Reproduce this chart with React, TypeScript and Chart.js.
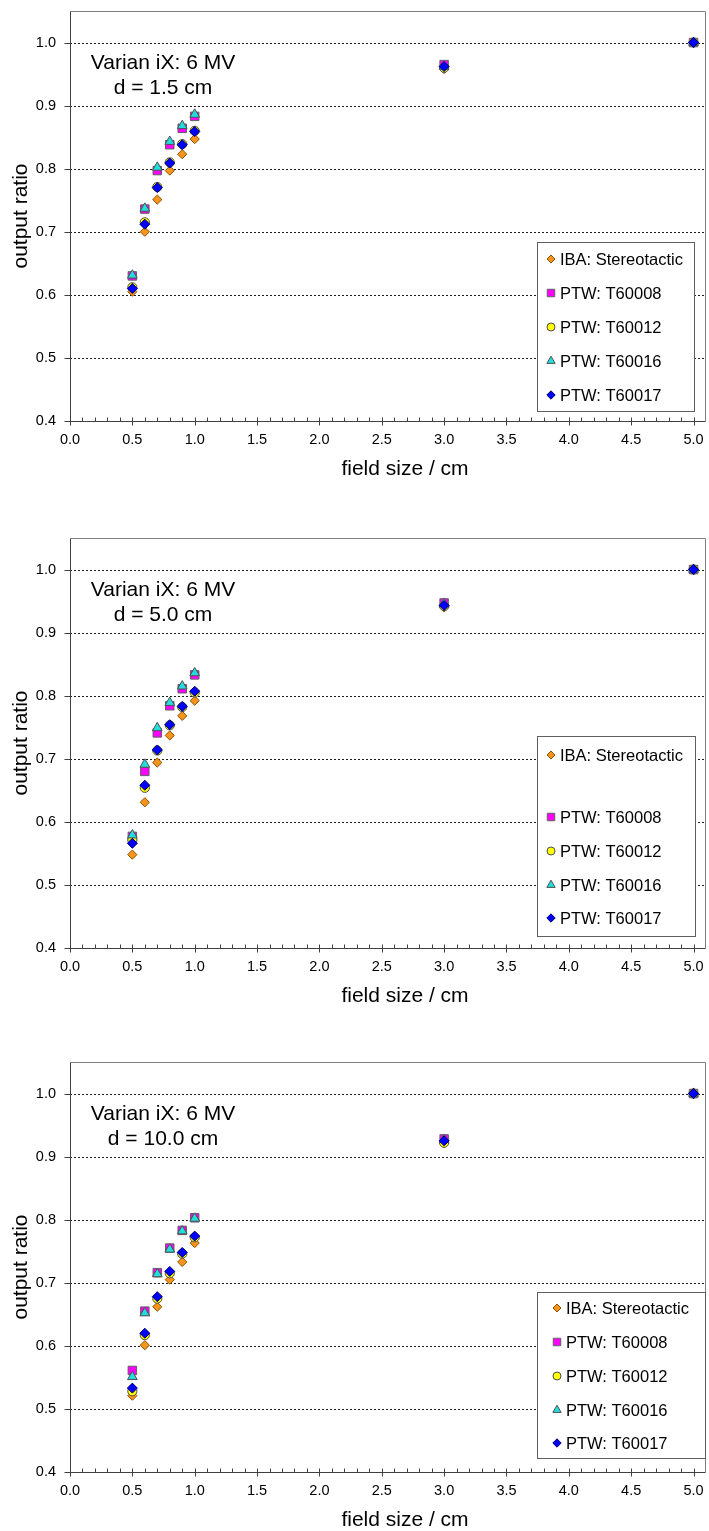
import React, { useEffect, useRef } from 'react';
import { Chart, registerables } from 'chart.js';
import { drawPoint } from 'chart.js/helpers';

Chart.register(...registerables);

const FONT = '"Liberation Sans", Arial, sans-serif';

// ---------- data ----------
const FIELD_SIZES = [0.5, 0.6, 0.7, 0.8, 0.9, 1.0, 3.0, 5.0];
const SERIES_NAMES = ['IBA: Stereotactic', 'PTW: T60008', 'PTW: T60012', 'PTW: T60016', 'PTW: T60017'];
const X_TICK_LABELS = ['0.0', '0.5', '1.0', '1.5', '2.0', '2.5', '3.0', '3.5', '4.0', '4.5', '5.0'];
const Y_TICK_LABELS = ['0.4', '0.5', '0.6', '0.7', '0.8', '0.9', '1.0'];

// depth d = 1.5 cm
const D15_IBA = [0.605, 0.700, 0.751, 0.797, 0.823, 0.847, 0.958, 1.0];
const D15_T60008 = [0.630, 0.736, 0.797, 0.838, 0.864, 0.883, 0.965, 1.0];
const D15_T60012 = [0.612, 0.715, 0.771, 0.810, 0.839, 0.860, 0.960, 1.0];
const D15_T60016 = [0.631, 0.737, 0.802, 0.843, 0.868, 0.886, 0.962, 1.0];
const D15_T60017 = [0.610, 0.712, 0.770, 0.809, 0.838, 0.859, 0.962, 1.0];

// depth d = 5.0 cm
const D50_IBA = [0.548, 0.631, 0.694, 0.737, 0.768, 0.792, 0.940, 1.0];
const D50_T60008 = [0.577, 0.680, 0.741, 0.784, 0.811, 0.833, 0.947, 1.0];
const D50_T60012 = [0.571, 0.654, 0.713, 0.753, 0.782, 0.805, 0.942, 1.0];
const D50_T60016 = [0.579, 0.691, 0.749, 0.789, 0.815, 0.836, 0.946, 1.0];
const D50_T60017 = [0.566, 0.658, 0.714, 0.754, 0.783, 0.807, 0.943, 1.0];

// depth d = 10.0 cm
const D100_IBA = [0.521, 0.601, 0.662, 0.705, 0.733, 0.763, 0.921, 1.0];
const D100_T60008 = [0.561, 0.655, 0.716, 0.755, 0.783, 0.803, 0.928, 1.0];
const D100_T60012 = [0.528, 0.617, 0.675, 0.715, 0.746, 0.772, 0.922, 1.0];
const D100_T60016 = [0.551, 0.652, 0.714, 0.753, 0.782, 0.802, 0.927, 1.0];
const D100_T60017 = [0.533, 0.620, 0.678, 0.718, 0.748, 0.774, 0.925, 1.0];

const PANEL_TITLES = ['d = 1.5 cm', 'd = 5.0 cm', 'd = 10.0 cm'];
const MACHINE_LABEL = 'Varian iX: 6 MV';
const X_TITLE = 'field size / cm';
const Y_TITLE = 'output ratio';

// ---------- styles ----------
const MARKERS = [
  { style: 'rectRot', radius: 4.6, fill: '#F7941D', stroke: '#8A5200', lr: 4 },
  { style: 'rect', radius: 6, fill: '#FF00FF', stroke: '#606060', lr: 5.3 },
  { style: 'circle', radius: 4.6, fill: '#FFFF00', stroke: '#505050', lr: 4 },
  { style: 'triangle', radius: 5.6, fill: '#22DDDD', stroke: '#505050', lr: 4.8 },
  { style: 'rectRot', radius: 5, fill: '#0000FF', stroke: '#000070', lr: 4.2 },
];

const PANELS = [
  {
    title: PANEL_TITLES[0],
    values: [D15_IBA, D15_T60008, D15_T60012, D15_T60016, D15_T60017],
    top: 0,
    legend: { x: 537, y: 242, w: 157, h: 169, rows: [259, 293, 327, 361, 395], mx: 551, tx: 560 },
  },
  {
    title: PANEL_TITLES[1],
    values: [D50_IBA, D50_T60008, D50_T60012, D50_T60016, D50_T60017],
    top: 527,
    legend: { x: 537, y: 209, w: 158, h: 200, rows: [228, 290, 324, 358, 391], mx: 551, tx: 560 },
  },
  {
    title: PANEL_TITLES[2],
    values: [D100_IBA, D100_T60008, D100_T60012, D100_T60016, D100_T60017],
    top: 1051,
    legend: { x: 537, y: 241, w: 168, h: 166, rows: [257, 291, 325, 359, 392], mx: 557, tx: 566 },
  },
];

const W = 709;
const H = 480;

function Panel({ panel }: { panel: any }) {
  const ref = useRef<HTMLCanvasElement>(null);

  useEffect(() => {
    const canvas = ref.current;
    if (!canvas) return;

    const datasets = SERIES_NAMES.map((name, i) => ({
      label: name,
      data: FIELD_SIZES.map((x, j) => ({ x, y: panel.values[i][j] })),
      pointStyle: MARKERS[i].style,
      pointRadius: MARKERS[i].radius,
      pointBackgroundColor: MARKERS[i].fill,
      pointBorderColor: MARKERS[i].stroke,
      pointBorderWidth: 1,
      backgroundColor: MARKERS[i].fill,
      borderColor: MARKERS[i].stroke,
      showLine: false,
      order: SERIES_NAMES.length - i,
    }));

    const deco = {
      id: 'deco',
      beforeDatasetsDraw(chart: any) {
        const { ctx, chartArea: a, scales } = chart;
        const ys = scales.y;
        ctx.save();
        ctx.strokeStyle = '#1a1a1a';
        ctx.lineWidth = 1;
        ctx.setLineDash([2, 2]);
        ys.ticks.forEach((t: any) => {
          if (t.value <= 0.4001) return;
          const py = Math.round(ys.getPixelForValue(t.value)) + 0.5;
          ctx.beginPath();
          ctx.moveTo(a.left, py);
          ctx.lineTo(a.right, py);
          ctx.stroke();
        });
        ctx.restore();
      },
      afterDatasetsDraw(chart: any) {
        const { ctx, chartArea: a, scales } = chart;
        const xs = scales.x;
        const ys = scales.y;
        const L = Math.round(a.left) + 0.5;
        const R = Math.round(a.right) - 0.5;
        const T = Math.round(a.top) + 0.5;
        const B = Math.round(a.bottom) + 0.5;
        ctx.save();
        // frame
        ctx.lineWidth = 1;
        ctx.strokeStyle = '#808080';
        ctx.beginPath();
        ctx.moveTo(L, T);
        ctx.lineTo(R, T);
        ctx.lineTo(R, B);
        ctx.stroke();
        ctx.strokeStyle = '#404040';
        ctx.beginPath();
        ctx.moveTo(L, T);
        ctx.lineTo(L, B);
        ctx.lineTo(R, B);
        ctx.stroke();
        // y ticks
        ys.ticks.forEach((t: any) => {
          const py = Math.round(ys.getPixelForValue(t.value)) + 0.5;
          ctx.beginPath();
          ctx.moveTo(L - 6, py);
          ctx.lineTo(L, py);
          ctx.stroke();
        });
        // x major + minor ticks
        const xt = xs.ticks.map((t: any) => t.value);
        xt.forEach((v: number, k: number) => {
          const px = Math.round(xs.getPixelForValue(v)) + 0.5;
          ctx.beginPath();
          ctx.moveTo(px, B - 4);
          ctx.lineTo(px, B + 4);
          ctx.stroke();
          if (k < xt.length - 1) {
            const step = (xt[k + 1] - v) / 5;
            for (let m = 1; m < 5; m++) {
              const mx = Math.round(xs.getPixelForValue(v + m * step)) + 0.5;
              ctx.beginPath();
              ctx.moveTo(mx, B - 4);
              ctx.lineTo(mx, B);
              ctx.stroke();
            }
          }
        });

        // annotation
        ctx.fillStyle = '#000';
        ctx.font = `21px ${FONT}`;
        ctx.textAlign = 'center';
        ctx.textBaseline = 'middle';
        ctx.fillText(MACHINE_LABEL, 163, a.top + 52);
        ctx.fillText(panel.title, 163, a.top + 77);

        // axis titles
        ctx.fillText(X_TITLE, 405, a.bottom + 48);
        ctx.save();
        ctx.translate(21, (a.top + a.bottom) / 2);
        ctx.rotate(-Math.PI / 2);
        ctx.fillText(Y_TITLE, 0, 0);
        ctx.restore();

        // legend
        const lg = panel.legend;
        ctx.fillStyle = '#ffffff';
        ctx.fillRect(lg.x, lg.y, lg.w, lg.h);
        ctx.strokeStyle = '#606060';
        ctx.strokeRect(lg.x + 0.5, lg.y + 0.5, lg.w, lg.h);
        ctx.font = `16.5px ${FONT}`;
        ctx.textAlign = 'left';
        ctx.textBaseline = 'middle';
        SERIES_NAMES.forEach((name, i) => {
          const m = MARKERS[i];
          ctx.fillStyle = m.fill;
          ctx.strokeStyle = m.stroke;
          ctx.lineWidth = 1;
          drawPoint(ctx, { pointStyle: m.style as any, radius: m.lr, borderWidth: 1, rotation: 0 }, lg.mx, lg.rows[i]);
          ctx.fillStyle = '#000';
          ctx.fillText(name, lg.tx, lg.rows[i] + 1);
        });
        ctx.restore();
      },
    };

    const chart = new Chart(canvas, {
      type: 'scatter',
      data: { datasets: datasets as any },
      options: {
        responsive: false,
        animation: false,
        devicePixelRatio: 1,
        layout: { autoPadding: false, padding: { top: 11, right: 3, left: 0, bottom: 0 } },
        plugins: { legend: { display: false }, tooltip: { enabled: false } },
        events: [],
        scales: {
          x: {
            type: 'linear',
            position: 'bottom',
            min: 0,
            max: 5.1,
            ticks: {
              stepSize: 0.5,
              includeBounds: false,
              autoSkip: false,
              maxRotation: 0,
              padding: 0,
              color: '#000',
              font: { family: FONT, size: 14.5 },
              callback: (v: any) => X_TICK_LABELS[Math.round(Number(v) / 0.5)] ?? Number(v).toFixed(1),
            },
            grid: { display: true, drawOnChartArea: false, drawTicks: true, tickLength: 10, color: 'rgba(0,0,0,0)' },
            border: { display: false },
            afterFit: (s: any) => { s.height = H - 11 - 410; },
          },
          y: {
            type: 'linear',
            min: 0.4,
            max: 1.05,
            ticks: {
              stepSize: 0.1,
              includeBounds: false,
              padding: 0,
              color: '#000',
              font: { family: FONT, size: 14.5 },
              callback: (v: any) => Y_TICK_LABELS[Math.round((Number(v) - 0.4) / 0.1)] ?? Number(v).toFixed(1),
            },
            grid: { display: true, drawOnChartArea: false, drawTicks: true, tickLength: 14, color: 'rgba(0,0,0,0)' },
            border: { display: false },
            afterFit: (s: any) => { s.width = 70; },
          },
        },
      } as any,
      plugins: [deco],
    });
    return () => chart.destroy();
  }, [panel]);

  return (
    <canvas
      ref={ref}
      width={W}
      height={H}
      style={{ position: 'absolute', left: 0, top: panel.top, width: W, height: H, display: 'block' }}
    />
  );
}

export default function App() {
  return (
    <div style={{ position: 'absolute', left: 0, top: 0, width: W, height: 1531, overflow: 'hidden', background: '#fff' }}>
      {PANELS.map((p, i) => (
        <Panel key={i} panel={p} />
      ))}
    </div>
  );
}
